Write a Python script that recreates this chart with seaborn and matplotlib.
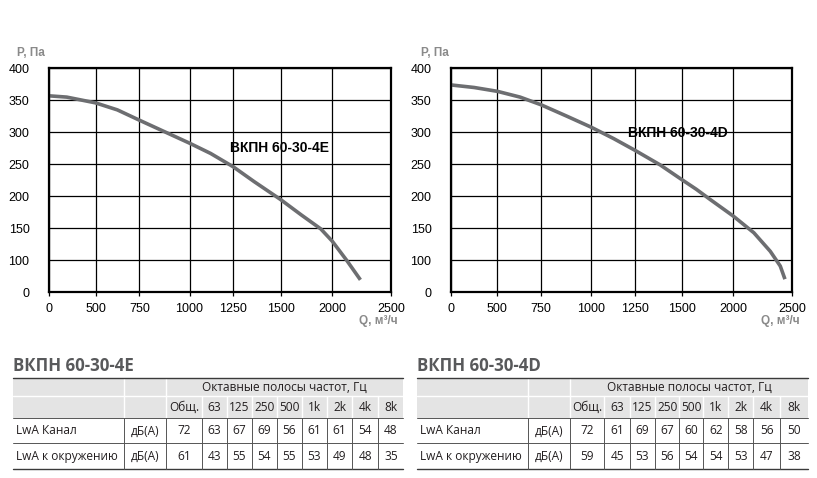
import numpy as np
import matplotlib
matplotlib.use("Agg")
import matplotlib.pyplot as plt
import seaborn as sns

# подписи делений осей (шкала на графике неравномерная)
q_ticks = [0, 500, 750, 1000, 1250, 1500, 2000, 2500]
p_ticks = [0, 100, 150, 200, 250, 300, 350, 400]

# аэродинамические характеристики P(Q)
q_4e = [0, 190, 500, 625, 750, 875, 1000, 1120, 1250, 1360, 1500, 1700, 1890, 2000, 2125, 2240]
p_4e = [357, 355, 346, 335, 319, 301, 283, 267, 246, 223, 195, 171, 149, 130, 99, 39]
q_4d = [0, 250, 500, 630, 750, 880, 1000, 1130, 1250, 1385, 1500, 1640, 1775, 2000, 2175, 2315, 2400, 2440]
p_4d = [374, 370, 364, 355, 343, 325, 308, 290, 272, 249, 226, 211, 195, 169, 143, 114, 82, 41]

# акустика
bands = ['Общ.', '63', '125', '250', '500', '1k', '2k', '4k', '8k']
row_names = ['LwA Канал', 'LwA к окружению']
unit = 'дБ(А)'
lw_4e = [[72, 63, 67, 69, 56, 61, 61, 54, 48],
         [61, 43, 55, 54, 55, 53, 49, 48, 35]]
lw_4d = [[72, 61, 69, 67, 60, 62, 58, 56, 50],
         [59, 45, 53, 56, 54, 54, 53, 47, 38]]

sns.set_theme(style="white")
plt.rcParams['font.family'] = ['Liberation Sans', 'DejaVu Sans']

W, H = 817, 478
fig = plt.figure(figsize=(W / 100, H / 100), dpi=100)

# положение линий сетки по оси Q (доли ширины поля)
q_frac = [0, 0.136, 0.264, 0.411, 0.539, 0.677, 0.828, 1.0]
p_frac = list(range(len(p_ticks)))

def q_fwd(v):
    return np.interp(v, q_ticks, q_frac)

def q_inv(v):
    return np.interp(v, q_frac, q_ticks)

def p_fwd(v):
    return np.interp(v, p_ticks, p_frac)

def p_inv(v):
    return np.interp(v, p_frac, p_ticks)

curve_color = '#6d6e71'
label_grey = '#8a8a8a'


def draw_chart(rect, q, p, name, name_xy):
    ax = fig.add_axes(rect)
    ax.set_xscale('function', functions=(q_fwd, q_inv))
    ax.set_yscale('function', functions=(p_fwd, p_inv))
    sns.lineplot(x=q, y=p, ax=ax, color=curve_color, lw=2.6,
                 estimator=None, sort=False, solid_capstyle='butt')
    ax.set_xlim(0, 2500)
    ax.set_ylim(0, 400)
    ax.set_xticks(q_ticks)
    ax.set_xticklabels([str(t) for t in q_ticks])
    ax.set_yticks(p_ticks)
    ax.set_yticklabels([str(t) for t in p_ticks])
    ax.minorticks_off()
    ax.grid(True, color='black', lw=0.9)
    for s in ax.spines.values():
        s.set_color('black')
        s.set_linewidth(1.6)
    ax.tick_params(axis='x', bottom=True, length=3, width=0.9, color='black',
                   labelsize=9, pad=5, labelcolor='black')
    ax.tick_params(axis='y', left=False, labelsize=9, pad=8, labelcolor='black')
    ax.set_xlabel('')
    ax.set_ylabel('')
    ax.text(name_xy[0], name_xy[1], name, transform=ax.transAxes,
            fontsize=10, fontweight='bold', color='black', va='center', ha='left')
    return ax


def px(x, y):
    return x / W, 1 - y / H


def rect_px(x0, y0, x1, y1):
    return [x0 / W, 1 - y1 / H, (x1 - x0) / W, (y1 - y0) / H]


draw_chart(rect_px(49, 68.3, 391, 292.3), q_4e, p_4e, 'ВКПН 60-30-4E', (0.53, 0.645))
draw_chart(rect_px(451, 68.3, 792, 292.3), q_4d, p_4d, 'ВКПН 60-30-4D', (0.52, 0.71))

for lx, qx in [(17, 398), (421, 800)]:
    fig.text(*px(lx, 53), 'P, Па', fontsize=8.5, fontweight='bold', color=label_grey,
             ha='left', va='center')
    fig.text(*px(qx, 315), 'Q, м³/ч', fontsize=8.5, fontweight='bold', color=label_grey,
             ha='right', va='top')

# таблицы
tax = fig.add_axes([0, 0, 1, 1])
tax.set_xlim(0, W)
tax.set_ylim(H, 0)
tax.axis('off')

tfont = ['Open Sans', 'Noto Sans', 'DejaVu Sans']
head_bg = '#e4e4e4'
txt = '#231f20'
row_y = [378.3, 396, 417.7, 443.3, 469]


def draw_table(edges, title, values):
    x0, x1 = edges[0], edges[-1]
    tax.text(x0, 366, title, fontsize=12.2, fontweight='bold', color='#58595b',
             family=tfont, ha='left', va='center')
    tax.add_patch(plt.Rectangle((x0, row_y[0]), x1 - x0, row_y[2] - row_y[0],
                                color=head_bg, lw=0))
    # белые разделители шапки
    tax.plot([x0, x1], [row_y[1], row_y[1]], color='white', lw=1)
    for e in edges[1:3]:
        tax.plot([e, e], [row_y[0], row_y[2]], color='white', lw=1)
    for e in edges[3:-1]:
        tax.plot([e, e], [row_y[1], row_y[2]], color='white', lw=1)
    # линии строк
    tax.plot([x0, x1], [row_y[0], row_y[0]], color='#3a3a3a', lw=1)
    tax.plot([x0, x1], [row_y[2], row_y[2]], color='#555555', lw=0.7)
    tax.plot([x0, x1], [row_y[3], row_y[3]], color='#555555', lw=0.7)
    tax.plot([x0, x1], [row_y[4], row_y[4]], color='#3a3a3a', lw=1)
    for e in edges[1:-1]:
        tax.plot([e, e], [row_y[2], row_y[4]], color='#555555', lw=0.7)

    fs = 8.6
    tax.text((edges[2] + x1) / 2, (row_y[0] + row_y[1]) / 2 + 0.5,
             'Октавные полосы частот, Гц', fontsize=fs, family=tfont, color=txt,
             ha='center', va='center')
    for i, b in enumerate(bands):
        tax.text((edges[2 + i] + edges[3 + i]) / 2, (row_y[1] + row_y[2]) / 2 + 0.5, b,
                 fontsize=fs, family=tfont, color=txt, ha='center', va='center')
    for r, (name, vals) in enumerate(zip(row_names, values)):
        yc = (row_y[2 + r] + row_y[3 + r]) / 2 + 0.5
        tax.text(x0 + 3, yc, name, fontsize=fs, family=tfont, color=txt,
                 ha='left', va='center')
        tax.text((edges[1] + edges[2]) / 2, yc, unit, fontsize=fs, family=tfont,
                 color=txt, ha='center', va='center')
        for i, v in enumerate(vals):
            tax.text((edges[2 + i] + edges[3 + i]) / 2, yc, str(v), fontsize=fs,
                     family=tfont, color=txt, ha='center', va='center')


draw_table([13.3, 124, 166, 201.7, 226.7, 252.3, 276.7, 301.7, 326.7, 352.3, 378.3, 403.3],
           'ВКПН 60-30-4E', lw_4e)
draw_table([416.7, 528.3, 570, 604.3, 630, 655, 679.3, 703.3, 728.3, 753.3, 780, 808.3],
           'ВКПН 60-30-4D', lw_4d)

fig.savefig('out.png', dpi=100, facecolor='white')
